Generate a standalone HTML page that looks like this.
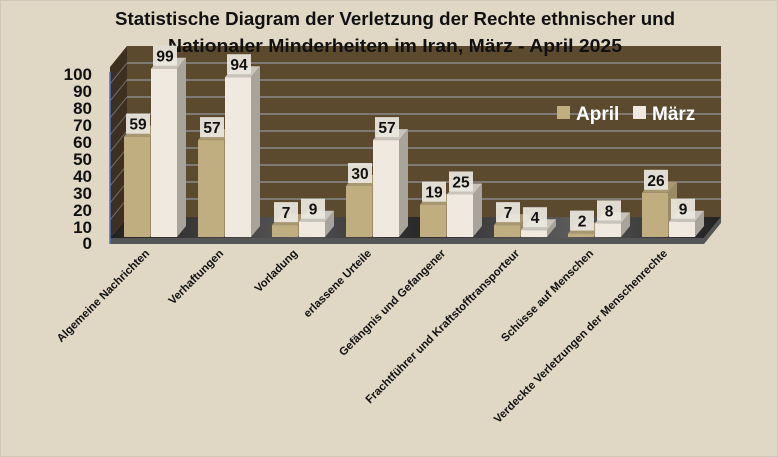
<!DOCTYPE html>
<html><head><meta charset="utf-8"><style>
body{margin:0;background:#e0d8c4;}
svg{display:block;font-family:"Liberation Sans",sans-serif;}
</style></head><body>
<svg width="778" height="457" viewBox="0 0 778 457">
<defs>
<linearGradient id="fl" x1="0" x2="1" y1="0" y2="0">
<stop offset="0" stop-color="#222"/><stop offset="0.3" stop-color="#555"/><stop offset="0.5" stop-color="#2a2a2a"/><stop offset="0.75" stop-color="#5a5a5a"/><stop offset="1" stop-color="#222"/>
</linearGradient>
</defs>
<rect x="0.5" y="0.5" width="777" height="456" fill="#e0d8c4" stroke="#cfc8b6"/>
<!-- walls -->
<polygon points="110,67 127,46 127,217 110,238" fill="#3d3020"/>
<rect x="127" y="46" width="594" height="171" fill="#5c4a2e"/>
<g stroke="#8a8a8a" stroke-width="1.5">
<line x1="127" y1="63" x2="721" y2="63"/><line x1="127" y1="80" x2="721" y2="80"/><line x1="127" y1="97" x2="721" y2="97"/><line x1="127" y1="114" x2="721" y2="114"/><line x1="127" y1="131" x2="721" y2="131"/><line x1="127" y1="148" x2="721" y2="148"/><line x1="127" y1="165" x2="721" y2="165"/><line x1="127" y1="182" x2="721" y2="182"/><line x1="127" y1="199" x2="721" y2="199"/>
</g>
<g stroke="#6a6a6a" stroke-width="1">
<line x1="110" y1="84" x2="127" y2="63"/><line x1="110" y1="101" x2="127" y2="80"/><line x1="110" y1="118" x2="127" y2="97"/><line x1="110" y1="135" x2="127" y2="114"/><line x1="110" y1="152" x2="127" y2="131"/><line x1="110" y1="169" x2="127" y2="148"/><line x1="110" y1="186" x2="127" y2="165"/><line x1="110" y1="203" x2="127" y2="182"/><line x1="110" y1="220" x2="127" y2="199"/>
</g>
<polygon points="110,238 127,217 721,217 704,238" fill="url(#fl)"/>
<polygon points="110,238 704,238 721,217 721,223 704,244 110,244" fill="#555"/>
<line x1="110" y1="72" x2="110" y2="244" stroke="#4a72c4" stroke-width="1.5"/>
<text x="395" y="25" text-anchor="middle" font-size="18.5" font-weight="bold" fill="#111" textLength="560" lengthAdjust="spacingAndGlyphs">Statistische Diagram der Verletzung der Rechte ethnischer und</text>
<text x="395" y="52" text-anchor="middle" font-size="18.5" font-weight="bold" fill="#111" textLength="454" lengthAdjust="spacingAndGlyphs">Nationaler Minderheiten im Iran, März - April 2025</text>
<g font-size="17" font-weight="bold" text-anchor="end" fill="#111">
<text x="92" y="80">100</text><text x="92" y="97">90</text><text x="92" y="114">80</text><text x="92" y="131">70</text><text x="92" y="148">60</text><text x="92" y="165">50</text><text x="92" y="182">40</text><text x="92" y="199">30</text><text x="92" y="216">20</text><text x="92" y="233">10</text><text x="92" y="249">0</text>
</g>
<g id="bars"></g>
<rect x="557" y="106" width="13" height="13" fill="#c0ad80"/>
<text x="576" y="120" font-size="19" font-weight="bold" fill="#fff">April</text>
<rect x="633" y="106" width="13" height="13" fill="#f0e9e0"/>
<text x="652" y="120" font-size="19" font-weight="bold" fill="#fff">März</text>
<g id="labels" font-size="11.3" font-weight="bold" fill="#111" text-anchor="end"></g>
</svg>
<script>
var A=[59,57,7,30,19,7,2,26],M=[99,94,9,57,25,4,8,9];
var names=["Algemeine Nachrichten","Verhaftungen","Vorladung","erlassene Urteile","Gefängnis und Gefangener","Frachtführer und Kraftstofftransporteur","Schüsse auf Menschen","Verdeckte Verletzungen der Menschenrechte"];
var g=document.getElementById('bars'),s='',L='';
function bar(x,v,f,sd,tp){var h=v*1.7,y=237-h,dx=9,dy=-11;
return '<polygon points="'+(x+26)+','+y+' '+(x+26+dx)+','+(y+dy)+' '+(x+26+dx)+','+(237+dy)+' '+(x+26)+',237" fill="'+sd+'"/>'+
'<polygon points="'+x+','+y+' '+(x+dx)+','+(y+dy)+' '+(x+26+dx)+','+(y+dy)+' '+(x+26)+','+y+'" fill="'+tp+'"/>'+
'<rect x="'+x+'" y="'+y+'" width="26" height="'+h+'" fill="'+f+'"/>';}
function lab(x,v){var y=237-v*1.7-13;return '<rect x="'+(x+2)+'" y="'+(y-10)+'" width="24" height="20" fill="#ece8e0" opacity="0.92"/><text x="'+(x+14)+'" y="'+(y+6)+'" text-anchor="middle" font-size="15.5" font-weight="bold" fill="#111">'+v+'</text>';}
for(var i=0;i<8;i++){var x=124+74*i;s+=bar(x,A[i],'#c0ad80','#9a8a66','#a89872');s+=bar(x+27,M[i],'#f0e9e0','#a8a49c','#c8c4bc');}
for(var i=0;i<8;i++){var x=124+74*i;s+=lab(x,A[i]);s+=lab(x+27,M[i]);
L+='<text transform="translate('+(150+74*i)+',254) rotate(-45)">'+names[i]+'</text>';}
g.innerHTML=s;document.getElementById('labels').innerHTML=L;
</script>
</body></html>
